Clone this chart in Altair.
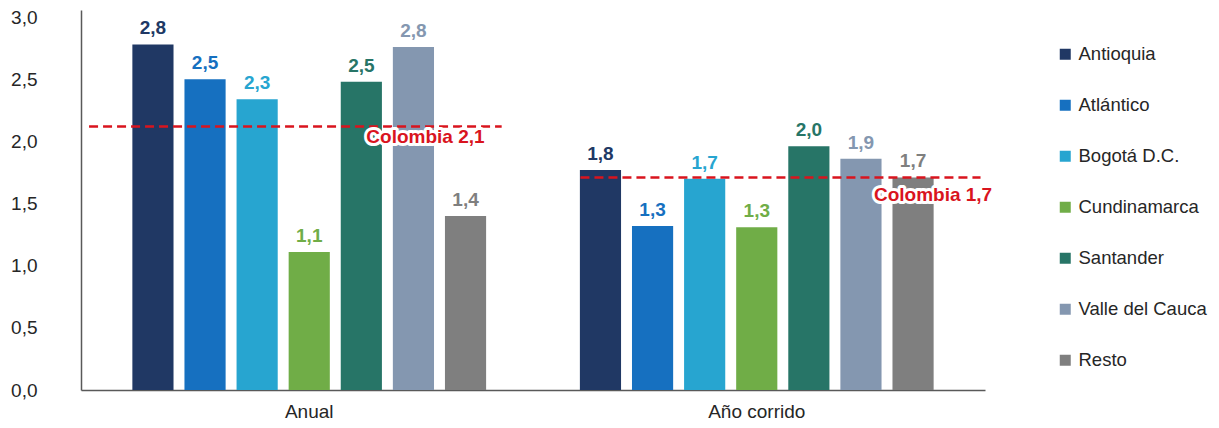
import altair as alt
import pandas as pd

grupos = ["Anual", "Año corrido"]
regiones = ["Antioquia", "Atlántico", "Bogotá D.C.", "Cundinamarca",
            "Santander", "Valle del Cauca", "Resto"]
anual = [2.78, 2.50, 2.34, 1.11, 2.48, 2.76, 1.40]
anio_corrido = [1.77, 1.32, 1.70, 1.31, 1.96, 1.86, 1.71]
colombia = [2.12, 1.71]
colombia_txt = ["Colombia 2,1", "Colombia 1,7"]
colores = ["#203864", "#1670C0", "#27A5D0", "#70AD47", "#277567", "#8497B0", "#7F7F7F"]
y_ticks = [0, 0.5, 1.0, 1.5, 2.0, 2.5, 3.0]

ROJO = "#D9141E"
FONT = "Liberation Sans"

rows = []
for g, vals in zip(grupos, [anual, anio_corrido]):
    for r, v in zip(regiones, vals):
        rows.append({"grupo": g, "region": r, "valor": v})
df = pd.DataFrame(rows)
df_col = pd.DataFrame({"grupo": grupos, "colombia": colombia, "txt": colombia_txt})

x_enc = alt.X("grupo:N", sort=grupos,
              scale=alt.Scale(domain=grupos, paddingInner=0, paddingOuter=0.01),
              axis=alt.Axis(title=None, labelAngle=0, ticks=False, tickSize=0,
                            labelPadding=12, labelFontSize=19, labelColor="#262626",
                            domainColor="#595959", domainWidth=1.5, labelFont=FONT))
xoff = alt.XOffset("region:N", sort=regiones,
                   scale=alt.Scale(domain=regiones, paddingInner=0.21, paddingOuter=0.9))
y_enc = alt.Y("valor:Q", scale=alt.Scale(domain=[0, 3.057], nice=False, zero=True),
              axis=alt.Axis(title=None, values=y_ticks, grid=False, ticks=False, tickSize=0,
                            labelPadding=44, labelFontSize=19, labelColor="#262626",
                            labelFont=FONT, domainColor="#595959", domainWidth=1.5,
                            labelExpr="replace(format(datum.value, '.1f'), '.', ',')"))
color_enc = alt.Color("region:N", sort=regiones,
                      scale=alt.Scale(domain=regiones, range=colores),
                      legend=alt.Legend(title=None, orient="none", legendX=975, legendY=35,
                                        symbolType="square", symbolSize=121,
                                        symbolStrokeWidth=0, labelFontSize=18.5,
                                        labelFont=FONT, labelColor="#262626",
                                        labelOffset=4, rowPadding=32, padding=0))

base = alt.Chart(df)
bars = base.mark_bar().encode(x=x_enc, xOffset=xoff, y=y_enc, color=color_enc)
labels = base.transform_calculate(
    lab="replace(format(datum.valor, '.1f'), '.', ',')"
).mark_text(fontWeight="bold", fontSize=19, font=FONT, baseline="alphabetic", dy=-10).encode(
    x=alt.X("grupo:N", sort=grupos), xOffset=alt.XOffset("region:N", sort=regiones),
    y="valor:Q",
    text="lab:N",
    color=alt.Color("region:N", sort=regiones, legend=None),
)

colbase = alt.Chart(df_col)

def rule_for(g, b0, b1):
    return colbase.transform_filter(alt.datum.grupo == g).mark_rule(
        color=ROJO, strokeDash=[9, 5], strokeWidth=2.5
    ).encode(
        x=alt.X("grupo:N", bandPosition=b0),
        x2=alt.X2(field="grupo", bandPosition=b1),
        y=alt.Y("colombia:Q"),
    )

def label_for(g, ancla, dx, dy):
    c = colbase.transform_filter(alt.datum.grupo == g).transform_calculate(ancla=f"'{ancla}'")
    enc = dict(x=alt.X("grupo:N"), xOffset=alt.XOffset("ancla:N"),
               y=alt.Y("colombia:Q"), text="txt:N")
    halo = c.mark_text(fontWeight="bold", fontSize=19, font=FONT, baseline="middle",
                       dx=dx, dy=dy, fill="white", stroke="white", strokeWidth=6,
                       strokeJoin="round").encode(**enc)
    txt = c.mark_text(fontWeight="bold", fontSize=19, font=FONT, baseline="middle",
                      dx=dx, dy=dy, color=ROJO).encode(**enc)
    return halo + txt

chart = alt.layer(
    bars,
    rule_for("Anual", 0.008, 0.93),
    rule_for("Año corrido", 0.106, 1.0),
    labels,
    label_for("Anual", "Valle del Cauca", 12, 11),
    label_for("Año corrido", "Resto", 20, 18),
).properties(
    width=904, height=380,
    autosize=alt.AutoSizeParams(type="none"),
    padding={"left": 73, "top": 2, "right": 226, "bottom": 30},
).configure(font=FONT).configure_view(strokeWidth=0, stroke="transparent")

chart.save("out.html", embed_options={"renderer": "svg", "actions": False})
